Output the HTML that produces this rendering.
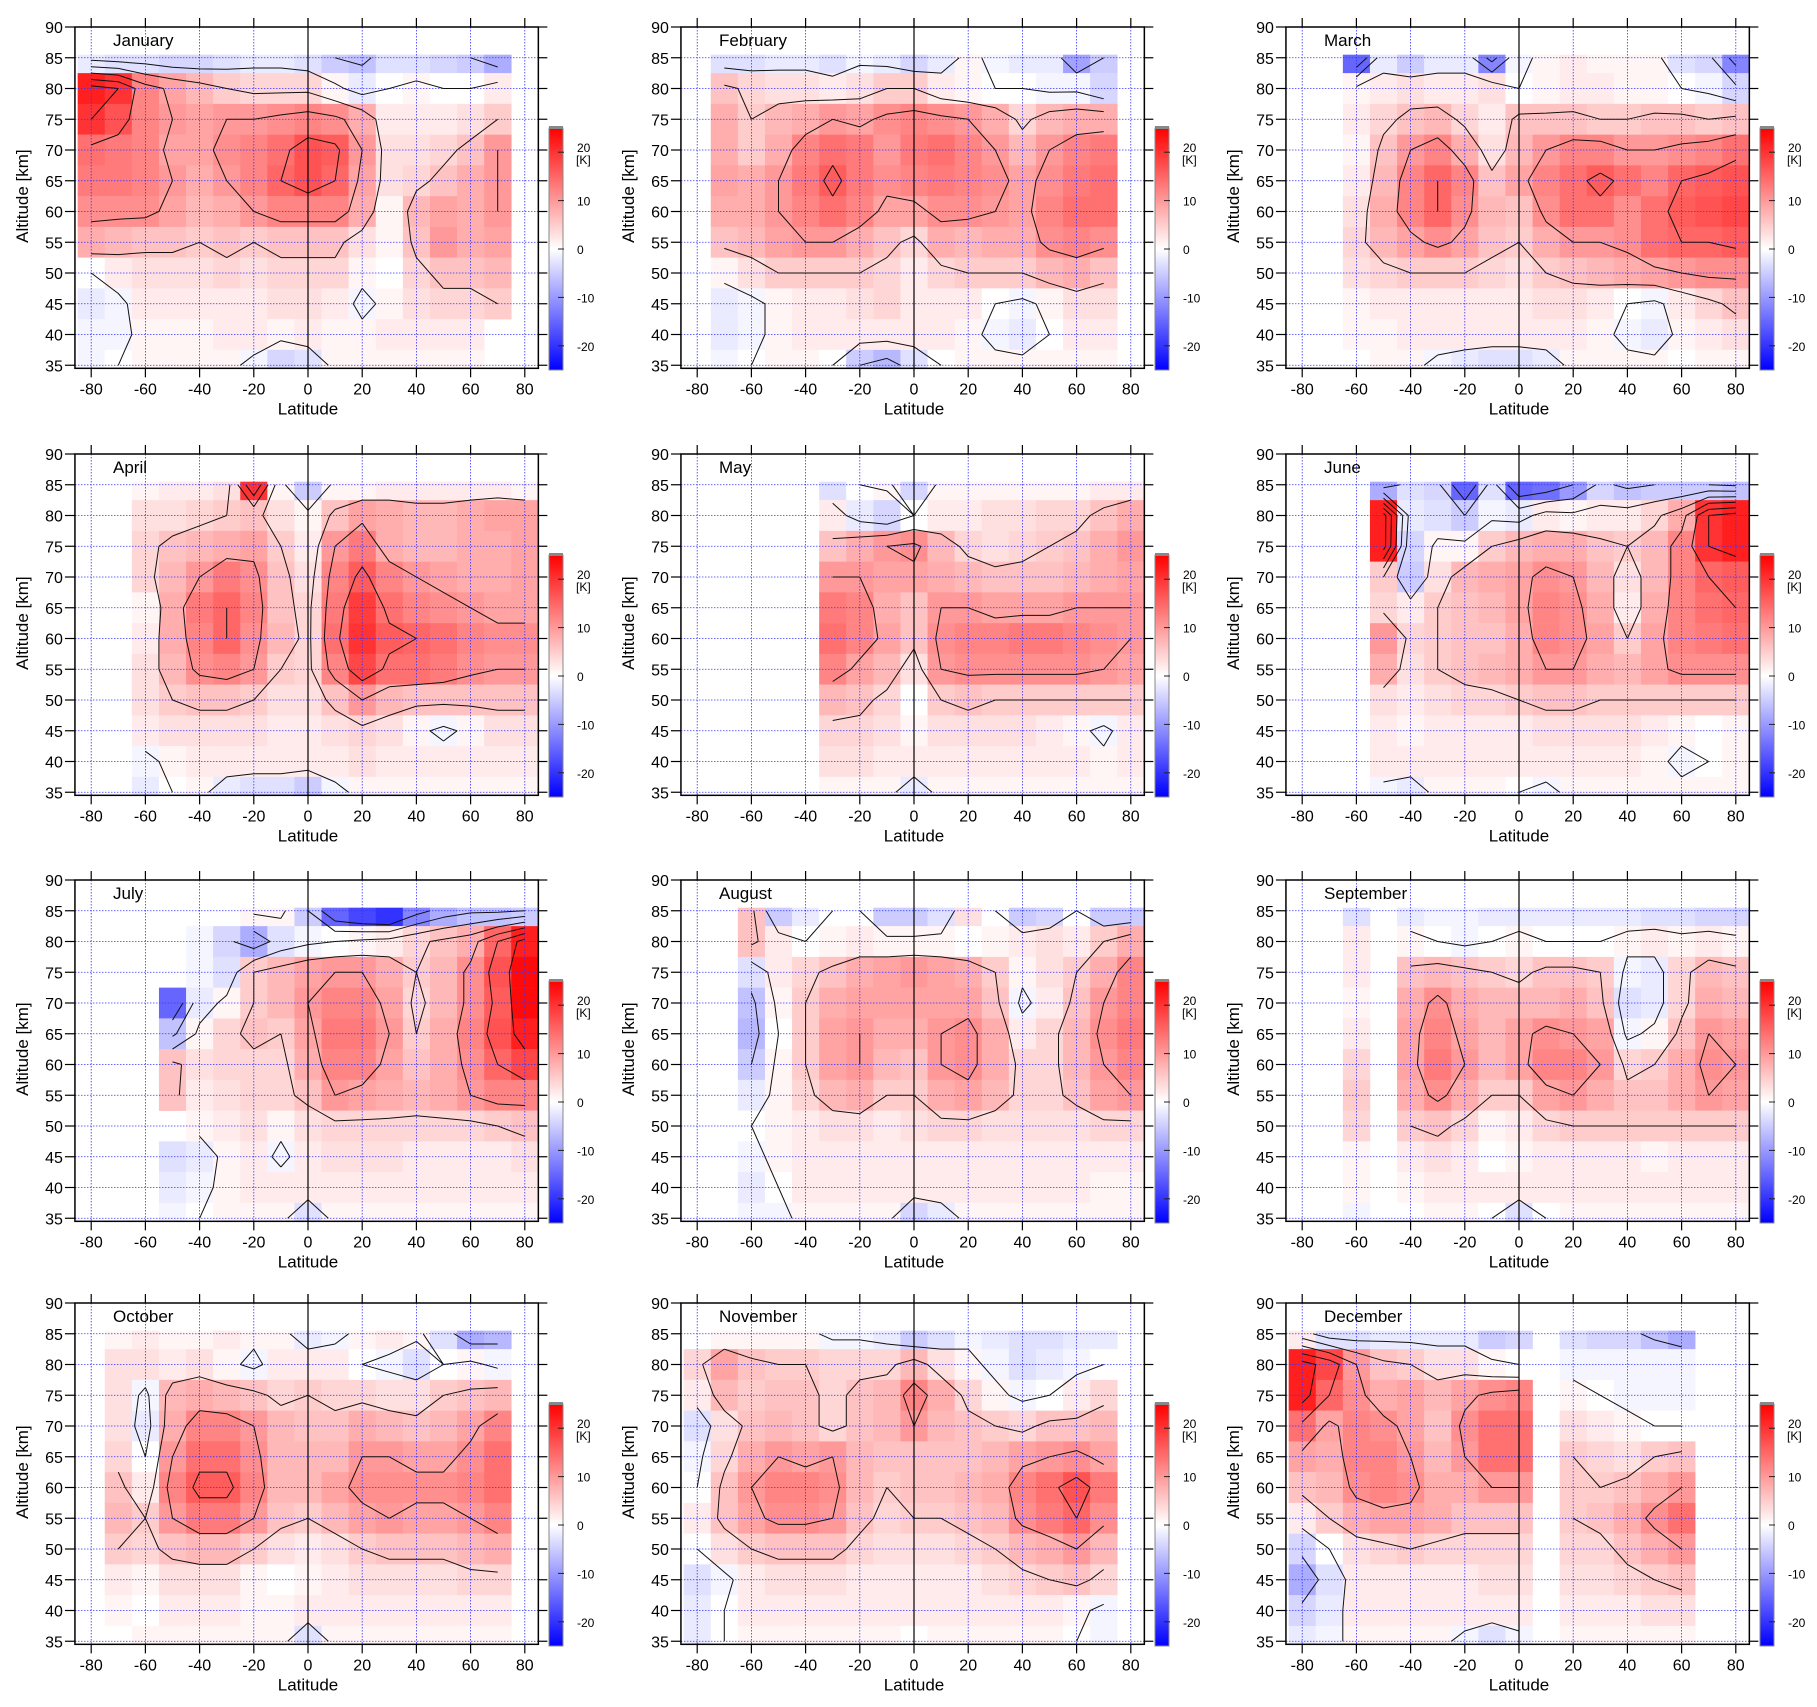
<!DOCTYPE html>
<html><head><meta charset="utf-8"><style>
body{margin:0;background:#fff;}
svg{display:block;font-family:"Liberation Sans",sans-serif;}
</style></head><body>
<svg id="c" width="1817" height="1707" viewBox="0 0 1817 1707" xmlns="http://www.w3.org/2000/svg">
<defs><linearGradient id="cbg" x1="0" y1="0" x2="0" y2="1">
<stop offset="0" stop-color="#ff0000"/><stop offset="0.5" stop-color="#ffffff"/><stop offset="1" stop-color="#0000ff"/></linearGradient></defs>
</svg>
<script>
const latitudes=[-80,-70,-60,-50,-40,-30,-20,-10,0,10,20,30,40,50,60,70,80];
const altitudes=[85,80,75,70,65,60,55,50,45,40,35];
const monthNames=["January","February","March","April","May","June","July","August","September","October","November","December"];
const latTicks=[-80,-60,-40,-20,0,20,40,60,80];
const altTicks=[90,85,80,75,70,65,60,55,50,45,40,35];
const cbTicks=[20,10,0,-10,-20];
const contourLevels=[-10,-5,0,5,10,15,20];
const jan=[
"-2,-3,-3,-4,-4,-3,-2,-2,-3,-5,-6,-3,-3,-4,-5,-8,_",
"22,20,12,9,7,5,4,4,4,1,-2,0,1,0,0,2,_",
"20,17,12,10,9,10,10,11,12,11,8,2,2,2,3,5,_",
"14,13,12,9,9,11,12,14,17,16,10,3,3,4,6,10,_",
"13,13,12,10,8,10,12,15,17,15,9,3,4,6,8,10,_",
"11,11,11,9,7,8,10,12,12,12,8,1,7,9,8,10,_",
"8,7,6,6,5,6,5,6,6,6,3,1,6,10,8,9,_",
"0,2,3,3,3,4,3,4,4,4,1,0,4,6,6,7,_",
"-2,-1,2,2,2,2,2,3,3,2,-1,1,3,4,4,5,_",
"-1,-1,1,1,1,2,2,1,2,1,1,2,2,2,2,_,_",
"-1,0,1,1,1,1,-1,-4,-3,1,1,1,1,1,1,_,_"];
const feb=[
"_,-3,-3,-2,-2,-3,-1,-2,-4,-2,1,-1,-2,-2,-9,-5,_",
"_,6,4,3,3,2,3,5,5,2,1,0,0,-1,-1,-4,_",
"_,8,5,7,8,10,9,11,12,11,10,8,4,7,8,8,_",
"_,8,5,8,12,14,13,10,13,14,12,10,7,10,12,13,_",
"_,9,8,10,13,16,13,11,12,13,12,11,9,11,13,14,_",
"_,8,8,10,12,14,12,9,9,11,11,10,9,12,14,14,_",
"_,6,7,9,10,10,8,6,4,8,7,8,8,11,12,11,_",
"_,1,3,5,5,5,5,4,2,4,5,5,5,7,8,6,_",
"_,-2,-1,1,2,2,3,4,2,2,2,0,-1,1,3,3,_",
"_,-2,-1,1,2,2,2,2,2,2,1,-1,-2,0,2,2,_",
"_,-1,0,1,1,0,-5,-7,-3,0,1,1,1,1,1,1,_"];
const mar=[
"_,_,-15,-2,-5,-2,-2,-12,-1,1,2,1,1,1,-3,-4,-12",
"_,_,1,2,3,2,2,3,0,1,2,2,1,1,0,-1,-4",
"_,_,2,4,6,7,4,2,6,6,6,5,5,6,6,5,6",
"_,_,1,6,10,12,8,3,7,10,12,12,10,10,11,12,14",
"_,_,2,7,12,15,12,6,9,12,14,16,14,12,15,16,17",
"_,_,3,8,12,15,11,7,6,11,14,14,11,14,16,17,18",
"_,_,4,7,9,11,9,6,5,8,10,10,11,14,15,15,16",
"_,_,3,4,5,5,5,4,3,5,6,7,8,9,10,11,11",
"_,_,1,2,2,2,2,2,2,3,3,2,0,-1,2,4,6",
"_,_,1,1,2,2,2,2,2,2,2,1,-1,-2,1,2,3",
"_,_,0,1,1,-1,-2,-3,-3,-2,1,1,1,1,0,1,1"];
const apr=[
"_,_,1,2,2,3,20,1,-5,1,1,2,2,2,2,2,1",
"_,_,3,3,4,5,6,3,1,6,9,8,7,7,8,9,9",
"_,_,4,6,7,8,9,5,2,10,13,8,7,7,8,8,9",
"_,_,4,7,10,13,11,6,3,12,16,12,10,9,8,8,9",
"_,_,1,8,13,15,12,6,4,13,19,14,12,11,10,9,9",
"_,_,2,8,12,15,11,7,4,14,20,16,15,14,12,11,11",
"_,_,3,7,11,12,10,5,4,12,18,14,14,13,11,10,10",
"_,_,3,5,6,6,5,3,3,6,10,7,6,6,6,6,6",
"_,_,2,3,3,3,3,2,2,3,4,3,1,-1,1,3,3",
"_,_,-1,1,2,2,2,2,2,2,3,2,2,2,2,2,2",
"_,_,-2,0,1,-2,-3,-3,-5,-1,1,1,1,1,1,1,1"];
const may=[
"_,_,_,_,_,-3,0,1,-4,1,1,1,1,1,1,2,2",
"_,_,_,_,_,2,-2,-4,0,2,2,3,3,4,4,6,8",
"_,_,_,_,_,6,8,10,11,7,4,3,4,5,6,8,10",
"_,_,_,_,_,10,10,9,9,8,7,6,6,6,7,8,9",
"_,_,_,_,_,13,12,8,6,10,10,9,9,9,10,10,10",
"_,_,_,_,_,14,12,9,6,11,12,12,13,13,12,11,10",
"_,_,_,_,_,12,9,7,3,10,11,11,11,11,11,10,9",
"_,_,_,_,_,7,6,4,0,5,6,5,5,5,5,5,5",
"_,_,_,_,_,4,4,3,1,3,3,3,3,2,1,-1,2",
"_,_,_,_,_,3,3,2,2,2,2,2,2,2,2,1,2",
"_,_,_,_,_,1,1,1,-2,1,1,1,1,1,1,1,1"];
const jun=[
"_,_,_,-8,-3,-4,-15,-3,-15,-14,-10,-4,-6,-5,-5,-5,-6",
"_,_,_,22,-2,-3,-5,-1,-2,2,1,2,2,4,8,20,22",
"_,_,_,22,-4,1,1,5,7,8,8,6,5,7,12,20,22",
"_,_,_,5,-5,3,7,8,9,11,10,7,3,7,12,15,16",
"_,_,_,4,2,5,6,7,9,12,11,8,2,8,12,14,15",
"_,_,_,10,4,5,6,6,8,12,11,9,5,9,12,13,14",
"_,_,_,8,3,5,6,7,8,10,10,8,7,9,11,11,11",
"_,_,_,3,2,3,4,4,5,6,6,5,5,5,5,5,5",
"_,_,_,2,1,2,2,2,2,3,3,3,3,2,1,0,1",
"_,_,_,2,2,2,2,2,2,2,2,2,2,1,-1,0,1",
"_,_,_,-1,-2,1,1,1,0,-1,1,1,1,1,1,1,1"];
const jul=[
"_,_,_,_,_,_,1,1,-5,-15,-18,-20,-12,-8,-6,-6,-5",
"_,_,_,_,-1,-4,-8,-3,-1,0,1,2,4,6,8,15,22",
"_,_,_,_,-1,-3,5,7,9,10,10,8,5,7,11,17,24",
"_,_,_,-15,-2,1,5,7,10,12,12,9,4,7,11,16,24",
"_,_,_,-6,1,4,6,5,9,13,13,10,5,8,12,17,22",
"_,_,_,6,3,4,4,4,8,12,12,9,6,8,11,15,18",
"_,_,_,6,2,3,4,4,6,10,9,8,7,8,10,12,12",
"_,_,_,_,1,2,3,1,3,4,4,4,4,4,4,5,6",
"_,_,_,-3,-2,1,2,-1,2,3,3,3,2,2,2,2,3",
"_,_,_,-2,-1,1,2,2,2,2,2,2,2,2,2,2,2",
"_,_,_,-1,0,1,1,1,-3,1,1,1,1,1,1,1,1"];
const aug=[
"_,_,6,-5,-2,0,0,-5,-5,-3,3,0,-5,-4,0,-5,-5",
"_,_,6,2,0,1,2,1,1,1,0,1,2,3,2,5,8",
"_,_,-3,2,4,6,8,9,10,9,8,5,1,3,5,8,12",
"_,_,-6,1,5,8,9,9,9,9,9,6,-1,2,6,10,12",
"_,_,-7,0,5,9,10,8,8,10,11,8,2,4,7,11,13",
"_,_,-5,1,5,9,10,7,6,10,11,8,4,4,7,10,12",
"_,_,-2,1,4,7,8,5,5,8,9,7,4,4,6,9,10",
"_,_,0,1,2,3,3,2,3,4,4,3,3,3,3,4,4",
"_,_,-1,1,2,2,2,2,2,2,2,2,2,2,2,2,2",
"_,_,-2,0,2,2,2,2,2,2,2,2,2,2,2,1,1",
"_,_,-1,-1,1,1,1,1,-4,-2,1,1,1,1,1,1,1"];
const sep=[
"_,_,-3,_,-2,-1,-1,-2,-2,-2,-2,-2,-2,-3,-3,-4,-4",
"_,_,2,_,1,0,-1,0,1,0,0,0,1,2,1,2,1",
"_,_,2,_,6,7,6,5,4,6,6,5,-1,-2,4,7,6",
"_,_,1,_,8,11,8,7,7,7,8,6,-3,-2,4,8,7",
"_,_,2,_,9,12,9,7,9,11,10,9,-1,1,6,10,9",
"_,_,4,_,9,13,10,7,9,12,12,10,4,5,8,11,10",
"_,_,5,_,8,11,8,5,5,9,10,8,6,6,8,10,9",
"_,_,4,_,5,6,4,1,2,4,5,5,5,5,5,5,5",
"_,_,1,_,2,3,2,0,1,2,2,2,2,1,2,2,2",
"_,_,1,_,1,2,2,2,2,2,2,2,2,2,2,2,2",
"_,_,-1,_,0,1,1,0,-3,0,1,1,1,1,1,1,1"];
const oct=[
"_,1,2,1,1,2,1,1,-2,-1,1,2,1,-3,-8,-7,_",
"_,3,3,2,3,1,-1,2,2,2,0,-1,-3,0,1,-1,_",
"_,3,-1,7,8,7,6,4,5,4,4,3,3,5,6,7,_",
"_,3,-2,8,12,12,10,7,6,6,8,7,6,7,9,12,_",
"_,4,0,10,14,14,11,7,7,7,10,10,9,9,11,14,_",
"_,6,2,12,16,16,12,7,7,9,11,11,11,11,12,14,_",
"_,7,5,10,13,13,10,6,5,7,9,10,9,9,10,12,_",
"_,5,4,6,7,7,5,3,2,3,5,6,6,6,7,8,_",
"_,2,1,3,3,3,1,0,1,2,3,3,3,3,4,4,_",
"_,1,0,2,2,2,1,1,2,2,2,2,2,2,2,2,_",
"_,0,1,1,1,1,1,1,-3,1,1,1,1,1,1,1,_"];
const nov=[
"0,1,1,1,1,-1,-1,-2,-5,-3,-1,-2,-3,-3,-2,-2,_",
"4,9,6,5,5,4,4,4,7,3,1,-1,-3,-2,-1,0,_",
"2,7,5,6,6,4,6,7,12,8,4,1,-1,0,2,4,_",
"-3,3,6,7,6,4,6,7,10,7,6,5,4,6,6,7,_",
"-1,4,8,10,9,10,7,6,6,6,6,7,9,10,11,9,_",
"0,6,10,12,12,11,7,5,6,6,7,8,12,14,17,13,_",
"2,6,9,11,11,10,6,4,5,5,6,7,11,13,15,11,_",
"0,3,5,6,6,6,4,3,3,3,4,5,7,8,10,7,_",
"-3,-1,2,3,3,3,2,2,2,2,2,3,4,5,6,4,_",
"-2,0,2,2,2,2,2,2,2,2,2,2,2,2,1,-1,_",
"-2,0,1,1,1,1,1,1,0,1,1,1,1,1,0,-1,_"];
const dec=[
"2,-3,-3,-2,-2,-2,-2,-5,-4,_,-3,-4,-4,-6,-8,_,_",
"22,18,10,6,5,3,3,1,0,_,-1,-1,-1,-1,-1,_,_",
"22,15,11,8,9,7,9,11,12,_,1,0,-1,-1,-1,_,_",
"14,9,12,11,9,6,11,14,14,_,3,2,1,0,0,_,_",
"9,8,12,12,10,7,10,14,14,_,5,4,3,5,6,_,_",
"6,7,11,12,11,8,8,10,10,_,5,5,6,8,10,_,_",
"2,5,8,9,9,8,6,6,6,_,5,6,8,11,14,_,_",
"-4,0,3,4,5,4,4,4,4,_,4,4,6,8,10,_,_",
"-8,-3,2,2,2,2,2,3,3,_,3,3,4,5,6,_,_",
"-4,-2,2,2,2,2,2,2,2,_,2,2,2,3,3,_,_",
"-2,-1,1,1,1,1,-1,-3,-1,_,1,1,1,1,1,_,_"];
const monthData=[jan,feb,mar,apr,may,jun,jul,aug,sep,oct,nov,dec];

const NS="http://www.w3.org/2000/svg";
const svg=document.getElementById('c');
function mk(tag,attrs,parent){const e=document.createElementNS(NS,tag);for(const k in attrs)e.setAttribute(k,attrs[k]);(parent||svg).appendChild(e);return e;}
function parse(rows){return rows.map(r=>r.split(',').map(v=>v==='_'?null:+v));}
function color(v){let t=Math.max(-1,Math.min(1,v/25));
 if(t>=0){const g=Math.round(255*(1-t));return `rgb(255,${g},${g})`;}
 const g=Math.round(255*(1+t));return `rgb(${g},${g},255)`;}
const colX=[308,914,1519];
const rowY=[27,454,880,1303];
const PXD=2.71, PXK=6.15;

monthData.forEach((raw,mi)=>{
 const grid=parse(raw);
 const x0=colX[mi%3], top=rowY[Math.floor(mi/3)];
 const X=lat=>x0+lat*PXD;
 const Y=alt=>top+(90-alt)*PXK;
 const g=mk('g',{});
 
 
 const L=X(-86),R=X(85),T=Y(90),B=Y(34.5);
 // cells
 const cells=mk('g',{},g);
 
 
 grid.forEach((row,ri)=>row.forEach((v,ci)=>{
  if(v===null)return;
  const a=altitudes[ri],la=latitudes[ci];
  const y1=Y(Math.min(a+2.5,85.5)),y2=Y(Math.max(a-2.5,34.5));
  const x1=Math.max(X(la-5),L),x2=Math.min(X(la+5),R);
  const r=mk('rect',{x:x1,y:y1,width:x2-x1+0.3,height:y2-y1+0.3,fill:color(v)},cells);
  
  
 }));
 // grid lines
 latTicks.forEach(t=>{const l=mk('line',{x1:X(t),x2:X(t),y1:T,y2:B,stroke:'#3333ff','stroke-width':0.8,'stroke-dasharray':'1.5,1.5'},g);
  });
 altTicks.forEach(t=>{const l=mk('line',{x1:L,x2:R,y1:Y(t),y2:Y(t),stroke:'#3333ff','stroke-width':0.8,'stroke-dasharray':'1.5,1.5'},g);
  });
 // contours (marching squares on cell centres)
 const cg=mk('g',{fill:'none',stroke:'#111','stroke-width':1},g);
 
 
 let d='';
 contourLevels.forEach(lv=>{
  for(let r=0;r<altitudes.length-1;r++)for(let c=0;c<latitudes.length-1;c++){
   const v=[grid[r][c],grid[r][c+1],grid[r+1][c+1],grid[r+1][c]];
   if(v.some(q=>q===null))continue;
   const p=[[latitudes[c],altitudes[r]],[latitudes[c+1],altitudes[r]],[latitudes[c+1],altitudes[r+1]],[latitudes[c],altitudes[r+1]]];
   const pts=[];
   for(let k=0;k<4;k++){const a=v[k],b=v[(k+1)%4];
    if((a<lv)!==(b<lv)){const t=(lv-a)/(b-a);const pa=p[k],pb=p[(k+1)%4];
     pts.push([X(pa[0]+(pb[0]-pa[0])*t),Y(pa[1]+(pb[1]-pa[1])*t)]);}}
   for(let k=0;k+1<pts.length;k+=2)d+=`M${pts[k][0].toFixed(1)},${pts[k][1].toFixed(1)}L${pts[k+1][0].toFixed(1)},${pts[k+1][1].toFixed(1)}`;
  }});
 const cp=mk('path',{d:d},cg);
 
 
 // equator line
 const eq=mk('line',{x1:X(0),x2:X(0),y1:T-9,y2:B,stroke:'#000','stroke-width':1.2},g);
 
 // frame
 const fr=mk('rect',{x:L,y:T,width:R-L,height:B-T,fill:'none',stroke:'#000','stroke-width':1.5},g);
 
 // ticks
 latTicks.forEach(t=>{
  mk('line',{x1:X(t),x2:X(t),y1:T-9,y2:T,stroke:'#000','stroke-width':1.2},g);
  mk('line',{x1:X(t),x2:X(t),y1:B,y2:B+9,stroke:'#000','stroke-width':1.2},g);
  const tx=mk('text',{x:X(t),y:B+26,'font-size':16,'text-anchor':'middle'},g);tx.textContent=t;
  
 });
 altTicks.forEach(t=>{
  mk('line',{x1:L-10,x2:L,y1:Y(t),y2:Y(t),stroke:'#000','stroke-width':1.2},g);
  mk('line',{x1:R,x2:R+9,y1:Y(t),y2:Y(t),stroke:'#000','stroke-width':1.2},g);
  const tx=mk('text',{x:L-12,y:Y(t)+6,'font-size':16,'text-anchor':'end'},g);tx.textContent=t;
  
 });
 const xt=mk('text',{x:X(0),y:B+46,'font-size':17,'text-anchor':'middle'},g);xt.textContent='Latitude';
 
 const yt=mk('text',{x:x0-280,y:Y(62.5),'font-size':17,'text-anchor':'middle',transform:`rotate(-90 ${x0-280} ${Y(62.5)})`},g);yt.textContent='Altitude [km]';
 
 const ti=mk('text',{x:x0-195,y:T+19,'font-size':17},g);ti.textContent=monthNames[mi];
 
 // colorbar
 const cbT=T+101,cbB=T+343,cbX=x0+241,cbW=14;
 const cb=mk('rect',{x:cbX,y:cbT,width:cbW,height:cbB-cbT,fill:'url(#cbg)',stroke:'#888','stroke-width':1},g);
 
 mk('rect',{x:cbX,y:cbT-2,width:cbW,height:3,fill:'#888'},g);
 const CY=v=>cbT+(25-v)/50*(cbB-cbT);
 cbTicks.forEach(v=>{
  mk('line',{x1:cbX+cbW-5,x2:cbX+cbW+1,y1:CY(v),y2:CY(v),stroke:'#222','stroke-width':1},g);
  const tx=mk('text',{x:cbX+cbW+14,y:CY(v)+(v===20?0:5),'font-size':12},g);tx.textContent=v;
  
 });
 const k=mk('text',{x:cbX+cbW+13,y:CY(20)+12,'font-size':12},g);k.textContent='[K]';
 
});
</script>
</body></html>
